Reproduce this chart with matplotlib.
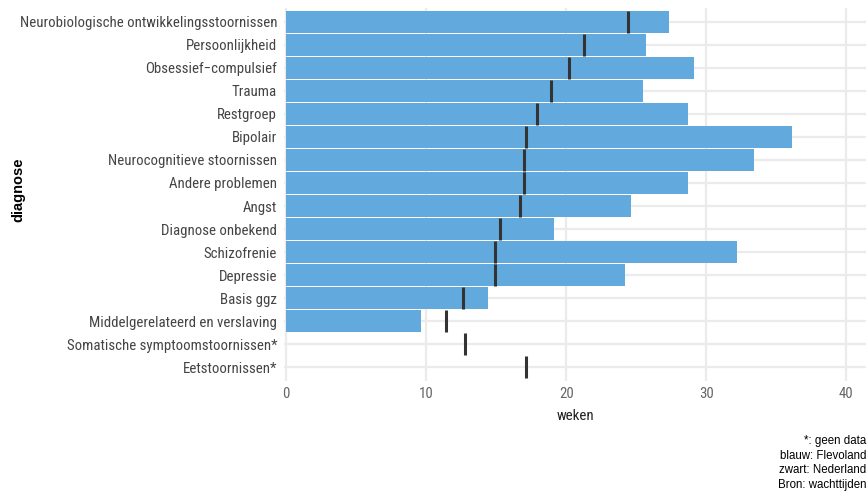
import matplotlib.pyplot as plt
import matplotlib.font_manager as fm

# diagnose categorieen, van boven naar beneden
diagnoses = ["Neurobiologische ontwikkelingsstoornissen", "Persoonlijkheid", "Obsessief\u2212compulsief",
             "Trauma", "Restgroep", "Bipolair", "Neurocognitieve stoornissen", "Andere problemen",
             "Angst", "Diagnose onbekend", "Schizofrenie", "Depressie", "Basis ggz",
             "Middelgerelateerd en verslaving", "Somatische symptoomstoornissen*", "Eetstoornissen*"]
flevoland = [27.35, 25.7, 29.1, 25.5, 28.7, 36.1, 33.4, 28.7,
             24.6, 19.1, 32.2, 24.2, 14.4, 9.6, None, None]
nederland = [24.4, 21.3, 20.2, 18.9, 17.9, 17.1, 17.0, 17.0,
             16.7, 15.3, 14.9, 14.9, 12.6, 11.4, 12.8, 17.1]

names = {f.name for f in fm.fontManager.ttflist}
fam, fs = "Liberation Sans", 9.6
for cand in ["Liberation Sans Narrow", "Roboto Condensed", "DejaVu Sans Condensed"]:
    if cand in names:
        fam, fs = cand, 10.7 if cand != "DejaVu Sans Condensed" else 9.8
        break
plt.rcParams['font.family'] = [fam, 'DejaVu Sans']

fig = plt.figure(figsize=(8.68, 4.95), dpi=100)
ax = fig.add_axes([284 / 868, 1 - 381 / 495, (866 - 284) / 868, (381 - 8) / 495])

ypos = list(range(len(diagnoses)))[::-1]
for y, v in zip(ypos, flevoland):
    if v is not None:
        ax.barh(y, v, height=0.95, color="#62aadd", zorder=2)
ax.vlines(nederland, [y - 0.47 for y in ypos], [y + 0.47 for y in ypos],
          color="#333333", linewidth=2.2, zorder=3)

ax.set_xlim(-0.15, 41.4)
ax.set_ylim(-0.6, len(diagnoses) - 0.4)
ax.set_yticks(ypos)
ax.set_yticklabels(diagnoses, fontsize=fs, color="#444444")
ax.set_xticks([0, 10, 20, 30, 40])
ax.tick_params(axis='x', labelsize=fs, labelcolor="#666666", length=0, pad=4)
ax.tick_params(axis='y', length=0, pad=5)
ax.grid(True, color="#ebebeb", linewidth=1.6, zorder=0)
ax.set_axisbelow(True)
for s in ax.spines.values():
    s.set_visible(False)

ax.set_xlabel("weken", fontsize=fs, color="#222222", labelpad=6)
fig.text(18 / 868, 1 - 190 / 495, "diagnose", rotation=90, fontsize=10.5, fontweight="bold",
         family=["Liberation Sans", "DejaVu Sans"], ha="center", va="center")

caption = "*: geen data\nblauw: Flevoland\nzwart: Nederland\nBron: wachttijden"
fig.text(866 / 868, 1 - 491 / 495, caption, ha="right", va="bottom", fontsize=8.3,
         family=["Liberation Sans", "DejaVu Sans"], linespacing=1.3)

fig.savefig("out.png", dpi=100)
